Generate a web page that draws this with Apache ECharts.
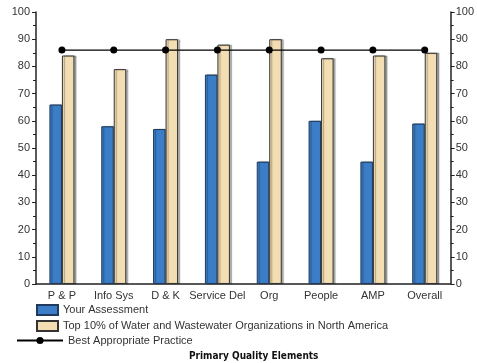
<!DOCTYPE html>
<html><head><meta charset="utf-8">
<script src="https://cdn.jsdelivr.net/npm/echarts@6/dist/echarts.min.js"></script>
<style>html,body{margin:0;padding:0;background:#fff}#c{width:477px;height:363px}</style>
</head><body><div id="c"></div>
<script>
const categories = ['P & P','Info Sys','D & K','Service Del','Org','People','AMP','Overall'];
const yourAssessment = [66,58,57,77,45,60,45,59];
const top10 = [84,79,90,88,90,83,84,85];
const bestPractice = [86,86,86,86,86,86,86,86];
const yTicks = {min:0, max:100, interval:10};

const chart = echarts.init(document.getElementById('c'), null, {renderer:'canvas'});
const axisTxt = {color:'#333', fontSize:11, fontFamily:'Liberation Sans, Arial, sans-serif'};
const yAxisCommon = {
  type:'value', min:yTicks.min, max:yTicks.max, interval:yTicks.interval,
  axisLine:{show:true, lineStyle:{color:'#222', width:1.5}},
  axisTick:{show:true, length:4, lineStyle:{color:'#222'}},
  minorTick:{show:true, splitNumber:2, length:3, lineStyle:{color:'#222'}},
  splitLine:{show:false},
  axisLabel:Object.assign({margin:6}, axisTxt)
};
chart.setOption({
  animation:false,
  grid:{left:36, right:23, top:12, bottom:79, containLabel:false},
  title:{text:'Primary Quality Elements', left:184, top:346,
    textStyle:{fontSize:10, fontWeight:'bold', color:'#111', fontFamily:'DejaVu Sans Condensed, Liberation Sans, sans-serif'}},
  legend:[
    {data:['Your Assessment','Top 10% of Water and Wastewater Organizations in North America'],
     orient:'vertical', left:31, top:299, itemWidth:21, itemHeight:10, itemGap:4, icon:'rect',
     textStyle:axisTxt},
    {data:['Best Appropriate Practice'], orient:'vertical', left:11, top:330,
     itemWidth:46, itemHeight:9, textStyle:axisTxt}
  ],
  xAxis:{type:'category', data:categories,
    axisLine:{lineStyle:{color:'#222', width:1.5}},
    axisTick:{alignWithLabel:true, length:3, lineStyle:{color:'#222'}},
    axisLabel:Object.assign({margin:6, interval:0}, axisTxt)},
  yAxis:[
    Object.assign({position:'left'}, yAxisCommon),
    Object.assign({position:'right'}, yAxisCommon, {axisLabel:Object.assign({margin:5}, axisTxt)})
  ],
  series:[
    {name:'Your Assessment', type:'bar', data:yourAssessment, barWidth:12.5, barGap:'0%',
     itemStyle:{color:'#3b7dc6', borderColor:'#1f3a5c', borderWidth:1,
       shadowColor:'rgba(0,0,0,0.3)', shadowOffsetX:2, shadowOffsetY:0, shadowBlur:1}},
    {name:'Top 10% of Water and Wastewater Organizations in North America', type:'bar', data:top10, barWidth:12.5,
     itemStyle:{color:'#f3ddb2', borderColor:'#333', borderWidth:1,
       shadowColor:'rgba(0,0,0,0.3)', shadowOffsetX:2, shadowOffsetY:0, shadowBlur:1}},
    {name:'Best Appropriate Practice', type:'line', data:bestPractice,
     symbol:'circle', symbolSize:7, lineStyle:{color:'#000', width:1.3},
     itemStyle:{color:'#000'}}
  ]
});
</script></body></html>
